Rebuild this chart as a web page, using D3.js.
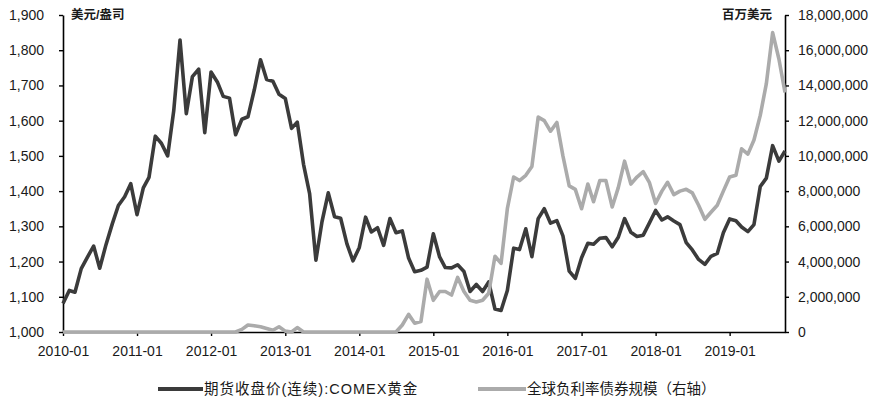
<!DOCTYPE html>
<html><head><meta charset="utf-8">
<script src="https://cdn.jsdelivr.net/npm/d3@7"></script>
<style>
body{margin:0;background:#fff}
text{font-family:"Liberation Sans","Noto Sans CJK SC",sans-serif;fill:#1a1a1a}
</style>
</head><body><svg id="c" width="881" height="405"></svg>
<script>
// Monthly categories 2010-01 .. 2019-10
const months = d3.timeMonth.range(new Date(2010,0,1), new Date(2019,10,1));
// COMEX gold continuous futures close (USD/oz)
const gold = [
 1081,1118,1113,1180,1212,1244,1181,1248,1307,1359,1384,1421,
 1333,1409,1439,1556,1536,1500,1628,1829,1620,1725,1746,1566,
 1738,1710,1669,1664,1560,1604,1611,1687,1773,1717,1712,1675,
 1663,1578,1596,1476,1393,1204,1313,1395,1327,1323,1250,1202,
 1240,1326,1284,1296,1246,1322,1282,1287,1210,1171,1175,1184,
 1279,1213,1183,1182,1191,1172,1115,1135,1115,1142,1065,1061,
 1118,1238,1234,1293,1214,1322,1350,1309,1316,1273,1173,1152,
 1211,1252,1249,1266,1268,1242,1269,1322,1283,1271,1275,1309,
 1345,1318,1327,1315,1305,1254,1233,1206,1192,1215,1223,1282,
 1321,1316,1298,1285,1305,1413,1437,1529,1485,1514
];
// Global negative-yielding bond market value (right axis)
const negBonds = [
 0,0,0,0,0,0,0,0,0,0,0,0,
 0,0,0,0,0,0,0,0,0,0,0,0,
 0,0,0,0,0,150000,400000,350000,300000,200000,100000,300000,
 50000,0,250000,0,0,0,0,0,0,0,0,0,
 0,0,0,0,0,0,0,400000,1000000,500000,600000,3000000,
 1800000,2300000,2300000,2100000,3100000,2300000,1800000,1700000,1800000,2200000,4300000,3900000,
 7000000,8800000,8600000,8900000,9400000,12200000,12000000,11400000,11900000,10000000,8300000,8100000,
 7000000,8400000,7400000,8600000,8600000,7100000,8200000,9700000,8400000,8800000,9100000,8500000,
 7300000,8000000,8500000,7800000,8000000,8100000,7900000,7200000,6400000,6800000,7200000,8000000,
 8800000,8900000,10400000,10100000,10900000,12300000,14100000,17000000,15500000,13600000
];
const xTickLabels = ["2010-01","2011-01","2012-01","2013-01","2014-01","2015-01","2016-01","2017-01","2018-01","2019-01"];
const leftTicks = [1000,1100,1200,1300,1400,1500,1600,1700,1800,1900];
const rightTicks = [0,2000000,4000000,6000000,8000000,10000000,12000000,14000000,16000000,18000000];
const leftTitle = "美元/盎司";
const rightTitle = "百万美元";
const legendLabels = ["期货收盘价(连续):COMEX黄金","全球负利率债券规模（右轴）"];

const svg = d3.select("#c");
const parse = d3.timeParse("%Y-%m");
const x = d3.scaleTime().domain([months[0], months[months.length-1]]).range([63,785]);
const yL = d3.scaleLinear().domain([1000,1900]).range([332,15]);
const yR = d3.scaleLinear().domain([0,18000000]).range([332,15]);

function styleAxis(g){
  g.select(".domain").attr("stroke","#000").attr("stroke-width",1.6);
  g.selectAll(".tick line").attr("stroke","#000").attr("stroke-width",1.4);
  g.selectAll(".tick text").style("font-size","14px").attr("fill","#1a1a1a");
}

svg.append("g").attr("transform","translate(63,0)")
  .call(d3.axisLeft(yL).tickValues(leftTicks).tickFormat(d3.format(",")).tickSize(4).tickSizeOuter(0).tickPadding(15))
  .call(styleAxis);
svg.append("g").attr("transform","translate(785,0)")
  .call(d3.axisRight(yR).tickValues(rightTicks).tickFormat(d3.format(",")).tickSize(4).tickSizeOuter(0).tickPadding(9))
  .call(styleAxis);
svg.append("g").attr("transform","translate(0,332)")
  .call(d3.axisBottom(x).tickValues(xTickLabels.map(parse)).tickFormat((d,i)=>xTickLabels[i]).tickSize(4).tickSizeOuter(0).tickPadding(10))
  .call(styleAxis);

const lineL = d3.line().x((d,i)=>x(months[i])).y(d=>yL(d));
const lineR = d3.line().x((d,i)=>x(months[i])).y(d=>yR(d));

svg.append("path").datum(gold).attr("d",lineL)
  .attr("fill","none").attr("stroke","#3b3b3b").attr("stroke-width",3.6).attr("stroke-linejoin","round");
svg.append("path").datum(negBonds).attr("d",lineR)
  .attr("fill","none").attr("stroke","#ababab").attr("stroke-width",3.6).attr("stroke-linejoin","round");

svg.append("text").attr("x",71).attr("y",19).style("font-size","12.5px").style("font-weight","bold").text(leftTitle);
svg.append("text").attr("x",772).attr("y",19).attr("text-anchor","end").style("font-size","12.5px").style("font-weight","bold").text(rightTitle);

// legend
const lg = svg.append("g");
lg.append("line").attr("x1",158).attr("x2",203).attr("y1",389).attr("y2",389).attr("stroke","#3b3b3b").attr("stroke-width",4);
lg.append("text").attr("x",204).attr("y",394).style("font-size","14.5px").style("letter-spacing","1px").text(legendLabels[0]);
lg.append("line").attr("x1",478).attr("x2",526).attr("y1",389).attr("y2",389).attr("stroke","#ababab").attr("stroke-width",4);
lg.append("text").attr("x",527).attr("y",394).style("font-size","14.5px").text(legendLabels[1]);
</script>
</body></html>
